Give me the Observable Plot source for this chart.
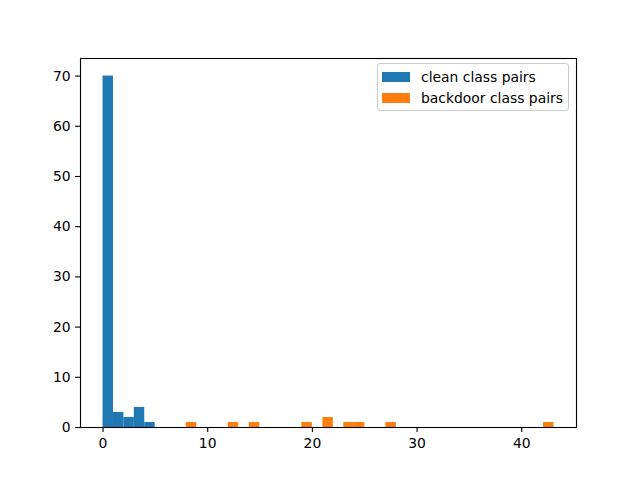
<!DOCTYPE html>
<html>
<head>
<meta charset="utf-8">
<script src="https://cdn.jsdelivr.net/npm/d3@7"></script>
<script src="https://cdn.jsdelivr.net/npm/@observablehq/plot@0.6"></script>
<style>
  html, body { margin: 0; padding: 0; background: #fff; }
  #wrap { position: relative; width: 640px; height: 480px; font-family: "DejaVu Sans", sans-serif; }
  #legend {
    position: absolute; left: 377px; top: 63px; width: 190px; height: 46px;
    border: 1px solid #cccccc; border-radius: 3px; background: rgba(255,255,255,0.8);
    font-size: 13.9px; color: #000;
  }
  .row { position: absolute; left: 0; height: 20px; display: flex; align-items: center; }
  .sw { position: absolute; left: 4px; width: 28px; height: 10px; }
  .lbl { position: absolute; left: 43px; white-space: nowrap; }
</style>
</head>
<body>
<div id="wrap"><div id="legend"></div></div>
<script>
// Histogram bins
const cleanLo = [0, 0.996, 1.992, 2.988, 3.984];
const cleanHi = [0.996, 1.992, 2.988, 3.984, 4.98];
const cleanCounts = [70, 3, 2, 4, 1];

const backdoorLo = [7.95, 11.96, 13.97, 18.99, 21.0, 23.0, 24.01, 27.02, 42.08];
const backdoorHi = [8.95, 12.97, 14.97, 20.0, 22.0, 24.01, 25.01, 28.02, 43.08];
const backdoorCounts = [1, 1, 1, 1, 2, 1, 1, 1, 1];

const xTicks = [0, 10, 20, 30, 40];
const yTicks = [0, 10, 20, 30, 40, 50, 60, 70];

const seriesNames = ["clean class pairs", "backdoor class pairs"];
const seriesColors = ["#1f77b4", "#ff7f0e"];

const clean = cleanLo.map((lo, i) => ({x1: lo, x2: cleanHi[i], y: cleanCounts[i]}));
const backdoor = backdoorLo.map((lo, i) => ({x1: lo, x2: backdoorHi[i], y: backdoorCounts[i]}));

const chart = Plot.plot({
  width: 640,
  height: 480,
  marginLeft: 80,
  marginRight: 64,
  marginTop: 58,
  marginBottom: 53,
  style: {fontFamily: "DejaVu Sans, sans-serif", fontSize: "13.9px", color: "#000", background: "#fff"},
  x: {domain: [-2.153, 45.23], ticks: xTicks, tickSize: 4.9, tickPadding: 5.5, label: null, tickFormat: d3.format("d")},
  y: {domain: [0, 73.5], ticks: yTicks, tickSize: 4.9, tickPadding: 5, label: null, tickFormat: d3.format("d")},
  marks: [
    Plot.rectY(clean, {x1: "x1", x2: "x2", y: "y", fill: seriesColors[0], inset: 0}),
    Plot.rectY(backdoor, {x1: "x1", x2: "x2", y: "y", fill: seriesColors[1], inset: 0}),
    Plot.frame({stroke: "#000", strokeWidth: 1.1})
  ]
});
document.getElementById("wrap").prepend(chart);
chart.style.display = "block";
chart.querySelectorAll("[aria-label$='axis'] line, [aria-label='x-axis tick'], [aria-label='y-axis tick']").forEach(e => e.setAttribute("stroke-width", "1.1"));

const legend = document.getElementById("legend");
seriesNames.forEach((name, i) => {
  const row = document.createElement("div");
  row.className = "row";
  row.style.top = (i === 0 ? 3 : 24) + "px";
  row.style.width = "100%";
  const sw = document.createElement("div");
  sw.className = "sw";
  sw.style.background = seriesColors[i];
  sw.style.top = "5px";
  const lb = document.createElement("div");
  lb.className = "lbl";
  lb.textContent = name;
  row.appendChild(sw);
  row.appendChild(lb);
  legend.appendChild(row);
});
</script>
</body>
</html>
